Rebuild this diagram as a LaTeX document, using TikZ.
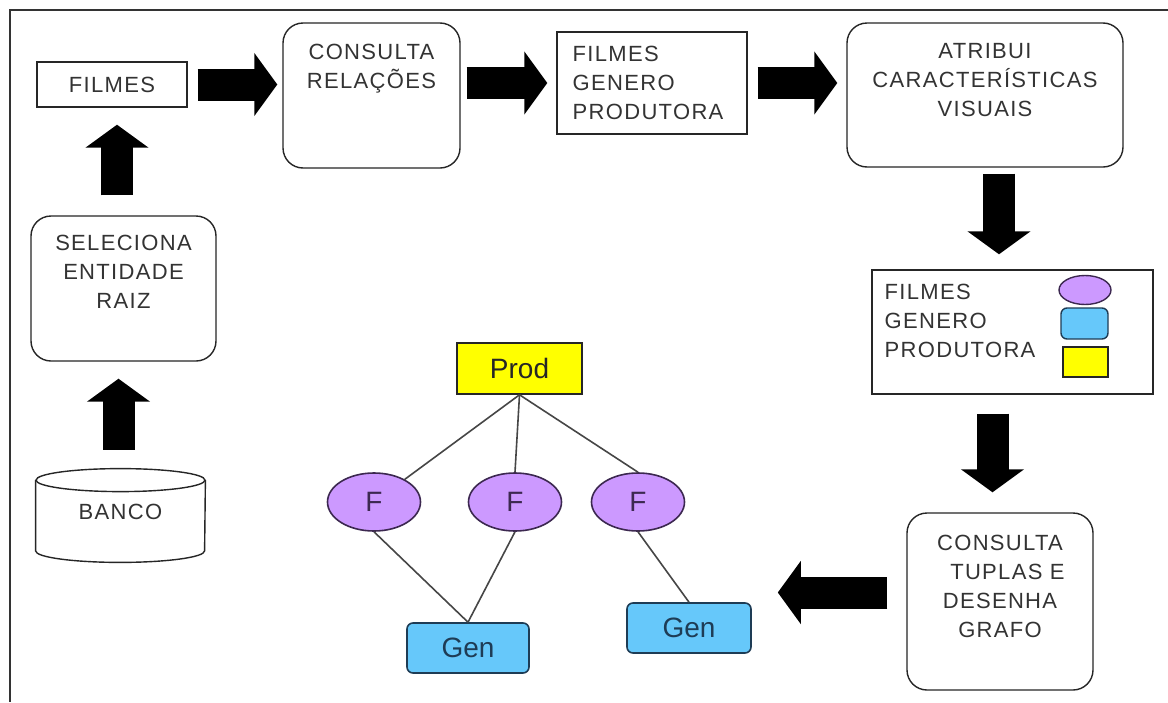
\documentclass[tikz,border=0pt]{standalone}
\usepackage{fontspec}
\setmainfont{Liberation Sans}
\newfontfamily\boxfont{Liberation Sans}[LetterSpace=6]
\usetikzlibrary{arrows.meta,calc,shapes.geometric}
\definecolor{fpurple}{RGB}{204,153,255}
\definecolor{gblue}{RGB}{102,200,250}
\definecolor{pyellow}{RGB}{255,255,0}
\definecolor{edgegray}{RGB}{70,70,70}
\definecolor{fborder}{RGB}{60,40,80}
\definecolor{gborder}{RGB}{30,60,85}

\begin{document}
\begin{tikzpicture}[x=0.5pt,y=-0.5pt,
  box/.style={draw=black!85, line width=0.7pt, inner sep=0pt},
  rbox/.style={box, rounded corners=10pt},
  txt/.style={font=\boxfont\fontsize{11}{14.5}\selectfont, text=black!80, inner sep=0pt, align=center},
  big/.style={line width=16pt, -{Triangle[width=31pt,length=11.5pt]}},
  frame/.style={draw=black!80, line width=1pt},
  edge/.style={draw=edgegray, line width=0.8pt},
  gfont/.style={font=\fontsize{14}{16}\selectfont},
  prodbox/.style={draw=black!85, line width=0.8pt, fill=pyellow, gfont, text=black!85, minimum width=62.5pt, minimum height=25.5pt, inner sep=0pt},
  fnode/.style={ellipse, draw=fborder, line width=0.8pt, fill=fpurple, gfont, text=fborder, minimum width=46.5pt, minimum height=29pt, inner sep=0pt},
  genbox/.style={draw=gborder, line width=0.8pt, fill=gblue, rounded corners=3pt, gfont, text=gborder, minimum height=25pt, inner sep=0pt}
]
\useasboundingbox (0,0) rectangle (1168,702);
\fill[white] (0,0) rectangle (1168,702);
\draw[frame] (1168,10) -- (10,10) -- (10,702);

% process boxes
\node[box, txt, minimum width=75pt, minimum height=22.5pt] (filmes) at (112,84.5) {FILMES};

\node[rbox, minimum width=88.5pt, minimum height=72.5pt] (cons) at (371.5,95.5) {};
\node[txt, anchor=north] (consT) at ($(cons.north)+(0,21.5)$) {CONSULTA\\RELAÇÕES};

\node[box, minimum width=95pt, minimum height=51pt] (fgp) at (652,83) {};
\node[txt, align=left, anchor=north west] (fgpT) at ($(fgp.north west)+(16,14)$) {FILMES\\GENERO\\PRODUTORA};

\node[rbox, minimum width=138pt, minimum height=72pt] (atr) at (985,95) {};
\node[txt, anchor=north] (atrT) at ($(atr.north)+(0,21)$) {ATRIBUI\\CARACTERÍSTICAS\\VISUAIS};

\node[box, minimum width=140.5pt, minimum height=62pt] (legend) at (1012.5,332) {};
\node[txt, align=left, anchor=north west] (legendT) at ($(legend.north west)+(13,14)$) {FILMES\\GENERO\\PRODUTORA};
\node[ellipse, draw=fborder, line width=0.7pt, fill=fpurple, minimum width=26pt, minimum height=14.5pt, inner sep=0pt] (lgF) at (1085,290) {};
\node[draw=gborder, line width=0.7pt, fill=gblue, rounded corners=3pt, minimum width=23.5pt, minimum height=15.5pt, inner sep=0pt] (lgG) at (1084.5,323.5) {};
\node[draw=black!85, line width=0.7pt, fill=pyellow, minimum width=22.5pt, minimum height=15pt, inner sep=0pt] (lgP) at (1085.5,362) {};

\node[rbox, minimum width=93pt, minimum height=88.5pt] (tup) at (1000,601.5) {};
\node[txt, anchor=north] (tupT) at ($(tup.north)+(0,22)$) {CONSULTA\\\ \ TUPLAS E\\DESENHA\\GRAFO};

\node[rbox, minimum width=92.5pt, minimum height=72.5pt] (sel) at (123.5,288.5) {};
\node[txt, anchor=north] (selT) at ($(sel.north)+(0,19)$) {SELECIONA\\ENTIDADE\\RAIZ};

% database cylinder
\node[minimum width=84.5pt, minimum height=46.5pt, inner sep=0pt] (banco) at (120.5,515.5) {};
\draw[box] ($(banco.north)+(0,11.5)$) ellipse [x radius=42.25pt, y radius=5.75pt];
\draw[box] ($(banco.north west)+(0,11.5)$) -- ($(banco.south west)+(0,-11.5)$)
  arc[start angle=180, end angle=360, x radius=42.25pt, y radius=5.75pt]
  -- ($(banco.north east)+(0,11.5)$);
\node[txt] (bancoT) at (120.5,512) {BANCO};

% resulting graph
\node[prodbox] (prod) at (519.5,368.5) {Prod};
\node[fnode] (f1) at (374,502) {F};
\node[fnode] (f2) at (515,502) {F};
\node[fnode] (f3) at (638,502) {F};
\node[genbox, minimum width=61pt] (gen1) at (468,648) {Gen};
\node[genbox, minimum width=62pt] (gen2) at (689,628) {Gen};

\draw[edge] (prod.south) -- (f1);
\draw[edge] (prod.south) -- (f2.north);
\draw[edge] (prod.south) -- (f3.north);
\draw[edge] (f1.south) -- (gen1.north);
\draw[edge] (f2.south) -- (gen1.north);
\draw[edge] (f3.south) -- (gen2.north);

% block arrows
\draw[big, shorten <=5pt, shorten >=2.5pt] (filmes.east) -- (filmes.east -| cons.west);
\draw[big, shorten <=3pt, shorten >=4.5pt] (fgp.west -| cons.east) -- (fgp.west);
\draw[big, shorten <=5pt, shorten >=4.5pt] (fgp.east) -- (fgp.east -| atr.west);
\draw[big, shorten <=3pt, shorten >=7.5pt] ([xshift=7pt]atr.south) -- ([xshift=7pt]atr.south |- legend.north);
\draw[big, shorten <=9.5pt, shorten >=10pt] ([xshift=-3.75pt]tup.north |- legend.south) -- ([xshift=-3.75pt]tup.north);
\draw[big, shorten <=9.5pt, shorten >=13pt] ([yshift=4.5pt]tup.west) -- ([yshift=4.5pt]tup.west -| gen2.east);
\draw[big, shorten <=9.5pt, shorten >=8.5pt] ([xshift=-1pt]banco.north) -- ([xshift=-1pt]banco.north |- sel.south);
\draw[big, shorten <=10pt, shorten >=8.5pt] ([xshift=-3.25pt]sel.north) -- ([xshift=-3.25pt]sel.north |- filmes.south);
\end{tikzpicture}
\end{document}
